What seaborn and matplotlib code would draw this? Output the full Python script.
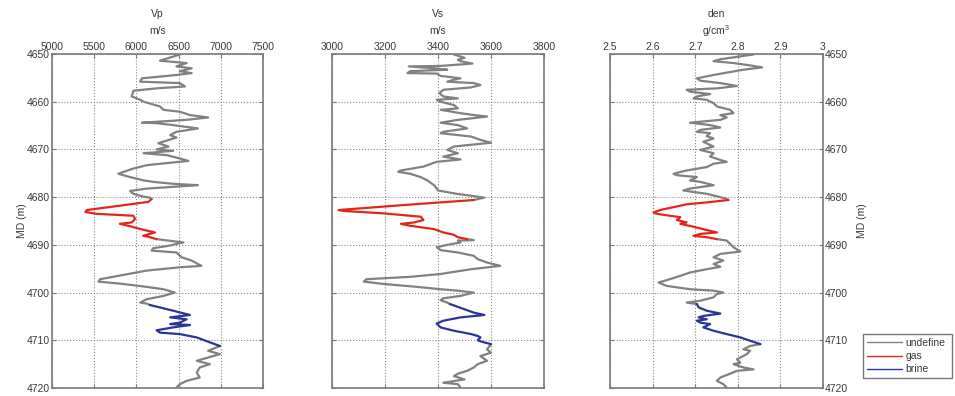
import matplotlib
matplotlib.use("Agg")
import matplotlib.pyplot as plt
from matplotlib.lines import Line2D
import pandas as pd
import seaborn as sns

# ---- well-log samples: measured depth (m) and log value ----
vp_depth = [4650.1, 4651.4, 4651.9, 4652.6, 4653.0, 4653.6, 4654.0, 4654.4, 4655.1, 4655.8,
            4656.1, 4656.8, 4657.2, 4657.7, 4658.9, 4659.6, 4660.0, 4661.0, 4661.7, 4662.1,
            4662.8, 4663.3, 4663.8, 4664.4, 4664.5, 4664.9, 4665.1, 4665.6, 4666.3, 4667.0,
            4667.5, 4668.7, 4669.4, 4670.0, 4670.3, 4670.8, 4671.2, 4671.9, 4672.4, 4672.9,
            4673.3, 4674.0, 4675.1, 4675.8, 4676.5, 4676.8, 4677.2, 4677.5, 4678.2, 4678.7,
            4679.3, 4679.9, 4680.1, 4680.4, 4681.0, 4682.7, 4683.1, 4683.5, 4683.9, 4684.6,
            4685.3, 4685.6, 4686.0, 4686.3, 4687.0, 4687.4, 4688.1, 4688.3, 4688.8, 4689.5,
            4690.2, 4690.7, 4691.2, 4691.6, 4692.6, 4693.3, 4694.4, 4694.7, 4695.4, 4697.2,
            4697.7, 4698.2, 4698.8, 4699.3, 4700.0, 4700.7, 4701.4, 4702.1, 4702.3, 4702.6,
            4703.8, 4704.7, 4705.2, 4705.6, 4706.3, 4706.6, 4706.8, 4707.3, 4707.9, 4708.4,
            4708.7, 4709.4, 4710.3, 4711.2, 4712.2, 4712.9, 4713.5, 4714.3, 4715.0, 4715.7,
            4716.8, 4717.8, 4718.5, 4719.2, 4719.9]
vp_value = [6515, 6280, 6595, 6475, 6655, 6515, 6655, 6475, 6065, 6045,
            6515, 6575, 6240, 5965, 5945, 6045, 6085, 6280, 6320, 6515,
            6635, 6850, 6595, 6065, 6240, 6435, 6515, 6730, 6475, 6400,
            6475, 6260, 6380, 6240, 6435, 6085, 6360, 6515, 6615, 6340,
            6125, 5965, 5785, 5925, 6085, 6200, 6435, 6730, 6125, 5925,
            5965, 6085, 6160, 6180, 6140, 5415, 5395, 5530, 5965, 5985,
            5945, 5805, 5905, 5965, 6120, 6220, 6080, 6140, 6240, 6555,
            6380, 6200, 6180, 6475, 6535, 6655, 6770, 6515, 6120, 5570,
            5550, 5845, 6120, 6320, 6455, 6320, 6120, 6045, 6120, 6160,
            6435, 6635, 6400, 6595, 6515, 6400, 6635, 6435, 6240, 6280,
            6515, 6715, 6850, 6990, 6850, 6990, 6870, 6715, 6870, 6750,
            6715, 6750, 6595, 6515, 6475]

vs_depth = [4650.1, 4650.8, 4651.2, 4651.5, 4652.0, 4652.5, 4652.6, 4653.0, 4653.3, 4653.6,
            4654.0, 4654.1, 4654.6, 4655.1, 4655.4, 4655.8, 4656.1, 4656.5, 4657.0, 4657.5,
            4658.2, 4658.9, 4659.3, 4659.6, 4660.0, 4660.7, 4661.4, 4661.7, 4662.4, 4662.8,
            4663.1, 4663.5, 4663.8, 4664.4, 4664.9, 4665.6, 4666.3, 4666.6, 4667.3, 4668.0,
            4668.6, 4669.1, 4669.4, 4670.1, 4670.8, 4671.5, 4672.1, 4672.6, 4673.6, 4674.4,
            4674.7, 4675.1, 4675.8, 4676.5, 4677.5, 4678.2, 4678.6, 4679.3, 4679.9, 4680.1,
            4680.6, 4681.0, 4681.7, 4682.7, 4682.9, 4683.4, 4684.1, 4684.8, 4685.3, 4685.6,
            4686.0, 4686.7, 4687.4, 4687.9, 4688.4, 4688.8, 4689.0, 4689.1, 4689.5, 4690.0,
            4690.5, 4691.1, 4691.6, 4692.3, 4693.0, 4693.7, 4694.4, 4695.1, 4696.1, 4696.7,
            4697.2, 4697.7, 4698.2, 4698.8, 4699.3, 4699.6, 4700.0, 4700.7, 4701.2, 4701.6,
            4702.1, 4702.4, 4703.5, 4704.2, 4704.7, 4705.2, 4705.9, 4706.5, 4707.3, 4708.0,
            4708.7, 4709.1, 4709.4, 4710.0, 4710.3, 4710.8, 4711.9, 4712.6, 4713.3, 4714.3,
            4715.0, 4715.7, 4716.4, 4717.0, 4717.5, 4718.2, 4718.9, 4719.2, 4719.9]
vs_value = [3460, 3500, 3475, 3485, 3530, 3410, 3290, 3385, 3435, 3295,
            3285, 3395, 3410, 3485, 3460, 3435, 3535, 3560, 3525, 3420,
            3405, 3420, 3475, 3395, 3410, 3460, 3475, 3410, 3485, 3535,
            3585, 3525, 3475, 3410, 3475, 3510, 3420, 3410, 3525, 3560,
            3600, 3510, 3460, 3435, 3475, 3420, 3485, 3395, 3345, 3260,
            3250, 3295, 3335, 3360, 3385, 3395, 3400, 3470, 3550, 3575,
            3535, 3435, 3260, 3025, 3045, 3195, 3335, 3345, 3310, 3260,
            3295, 3385, 3420, 3460, 3475, 3510, 3535, 3475, 3485, 3435,
            3395, 3410, 3475, 3535, 3550, 3585, 3635, 3525, 3410, 3295,
            3130, 3120, 3195, 3320, 3410, 3475, 3535, 3485, 3420, 3410,
            3435, 3445, 3500, 3535, 3575, 3485, 3420, 3395, 3410, 3460,
            3525, 3550, 3560, 3550, 3565, 3600, 3585, 3600, 3560, 3585,
            3550, 3535, 3510, 3475, 3460, 3500, 3420, 3475, 3485]

den_depth = [4650.1, 4650.6, 4651.1, 4651.5, 4651.9, 4652.5, 4652.8, 4653.3, 4653.9, 4654.4,
             4655.1, 4655.6, 4656.1, 4656.7, 4657.2, 4657.5, 4657.9, 4658.4, 4658.9, 4659.3,
             4659.6, 4660.3, 4661.0, 4661.7, 4662.4, 4662.8, 4663.3, 4663.8, 4664.4, 4664.9,
             4665.4, 4665.9, 4666.3, 4666.6, 4667.2, 4667.7, 4668.4, 4669.4, 4670.1, 4670.8,
             4671.5, 4672.2, 4672.6, 4673.0, 4673.7, 4674.4, 4675.1, 4675.4, 4675.8, 4676.5,
             4676.8, 4677.5, 4678.2, 4678.6, 4679.3, 4680.0, 4680.35, 4680.6, 4681.1, 4681.5,
             4682.1, 4682.7, 4683.2, 4683.5, 4683.9, 4684.2, 4684.8, 4685.3, 4685.6, 4686.2,
             4686.9, 4687.4, 4687.7, 4688.1, 4688.4, 4688.8, 4689.1, 4689.8, 4690.5, 4691.4,
             4691.9, 4692.6, 4693.3, 4694.0, 4694.6, 4695.1, 4695.8, 4696.5, 4697.4, 4697.9,
             4698.6, 4699.3, 4699.6, 4700.0, 4700.3, 4701.0, 4701.7, 4702.1, 4702.4, 4703.1,
             4703.8, 4704.4, 4704.9, 4705.2, 4705.6, 4705.9, 4706.3, 4706.6, 4707.3, 4708.0,
             4708.7, 4709.4, 4710.1, 4710.8, 4711.2, 4711.9, 4712.2, 4712.9, 4714.0, 4714.7,
             4715.0, 4715.7, 4716.1, 4716.4, 4717.0, 4717.8, 4718.5, 4719.2, 4719.9]
den_value = [2.837, 2.798, 2.759, 2.743, 2.790, 2.837, 2.857, 2.813, 2.774, 2.743,
             2.704, 2.712, 2.759, 2.798, 2.751, 2.680, 2.688, 2.735, 2.704, 2.696,
             2.727, 2.743, 2.751, 2.782, 2.790, 2.759, 2.774, 2.759, 2.688, 2.735,
             2.759, 2.712, 2.704, 2.735, 2.727, 2.743, 2.719, 2.743, 2.712, 2.743,
             2.735, 2.759, 2.774, 2.743, 2.727, 2.680, 2.649, 2.657, 2.704, 2.688,
             2.712, 2.743, 2.688, 2.672, 2.727, 2.759, 2.774, 2.778, 2.727, 2.680,
             2.649, 2.618, 2.602, 2.610, 2.641, 2.665, 2.657, 2.680, 2.665, 2.696,
             2.727, 2.751, 2.712, 2.696, 2.727, 2.751, 2.774, 2.782, 2.790, 2.806,
             2.759, 2.743, 2.766, 2.743, 2.759, 2.727, 2.688, 2.665, 2.633, 2.614,
             2.633, 2.688, 2.743, 2.766, 2.751, 2.743, 2.712, 2.680, 2.704, 2.708,
             2.727, 2.759, 2.719, 2.708, 2.727, 2.704, 2.712, 2.735, 2.719, 2.743,
             2.774, 2.806, 2.829, 2.853, 2.829, 2.813, 2.829, 2.821, 2.798, 2.806,
             2.790, 2.813, 2.837, 2.798, 2.782, 2.759, 2.751, 2.766, 2.774]

# fluid intervals (m)
gas_zone = (4680.4, 4688.4)
brine_zone = (4702.4, 4710.3)

facies_names = ["undefine", "gas", "brine"]
facies_colors = {"undefine": "#818181", "gas": "#e4251d", "brine": "#2a3594"}

# panel definitions: title, unit, x range, x ticks
panel_titles = ["Vp", "Vs", "den"]
panel_units = ["m/s", "m/s", "g/cm$^3$"]
panel_xlim = [(5000, 7500), (3000, 3800), (2.5, 3.0)]
panel_xticks = [[5000, 5500, 6000, 6500, 7000, 7500],
                [3000, 3200, 3400, 3600, 3800],
                [2.5, 2.6, 2.7, 2.8, 2.9, 3.0]]
panel_xticklabels = [["5000", "5500", "6000", "6500", "7000", "7500"],
                     ["3000", "3200", "3400", "3600", "3800"],
                     ["2.5", "2.6", "2.7", "2.8", "2.9", "3"]]
depth_ticks = [4650, 4660, 4670, 4680, 4690, 4700, 4710, 4720]


def facies_of(d):
    if gas_zone[0] <= d <= gas_zone[1]:
        return "gas"
    if brine_zone[0] <= d <= brine_zone[1]:
        return "brine"
    return "undefine"


def log_frame(depth, value):
    """Split a log into runs of constant facies; each run ends on the
    first sample of the next run so the trace stays continuous."""
    labels = [facies_of(d) for d in depth]
    rows, seg = [], 0
    for i, (d, v, f) in enumerate(zip(depth, value, labels)):
        if i > 0 and f != labels[i - 1]:
            rows.append((d, v, labels[i - 1], seg))
            seg += 1
        rows.append((d, v, f, seg))
    return pd.DataFrame(rows, columns=["depth", "value", "facies", "segment"])


sns.set_style("white")
plt.rcParams["font.family"] = ["Liberation Sans", "DejaVu Sans"]
plt.rcParams["mathtext.fontset"] = "custom"
plt.rcParams["mathtext.rm"] = "Liberation Sans"

text_color = "#3a3a3a"
frame_color = "#7a7a7a"

W, H = 955, 396
fig = plt.figure(figsize=(W / 100, H / 100), dpi=100)
fig.patch.set_facecolor("white")

# axes boxes in pixels: left, right
axes_px = [(52, 263), (332, 544), (610, 823)]
ax_top, ax_bottom = 54, 388

logs = [(vp_depth, vp_value), (vs_depth, vs_value), (den_depth, den_value)]

for i, ((dep, val), (x0, x1)) in enumerate(zip(logs, axes_px)):
    ax = fig.add_axes([x0 / W, (H - ax_bottom) / H, (x1 - x0) / W, (ax_bottom - ax_top) / H])
    df = log_frame(dep, val)
    sns.lineplot(data=df, x="value", y="depth", hue="facies", hue_order=facies_names,
                 palette=facies_colors, units="segment", estimator=None, sort=False,
                 orient="y", linewidth=1.6, legend=False, ax=ax)

    ax.set_xlim(*panel_xlim[i])
    ax.set_ylim(4720, 4650)
    ax.set_xticks(panel_xticks[i])
    ax.set_xticklabels(panel_xticklabels[i])
    ax.set_yticks(depth_ticks)
    ax.xaxis.tick_top()
    ax.set_xlabel("")

    # two-line header: quantity name and unit
    xc = (x0 + x1) / 2 / W
    fig.text(xc, 1 - 14 / H, panel_titles[i], ha="center", va="center",
             fontsize=7.5, color=text_color)
    fig.text(xc, 1 - 31 / H, panel_units[i], ha="center", va="center",
             fontsize=7.5, color=text_color)

    ax.grid(True, linestyle=":", linewidth=0.8, color="#8a8a8a")
    ax.tick_params(axis="both", direction="in", length=3, width=0.8,
                   colors=frame_color, labelcolor=text_color, labelsize=7.5,
                   top=True, bottom=True, left=True, right=True, pad=1.5)
    for sp in ax.spines.values():
        sp.set_color(frame_color)
        sp.set_linewidth(1.2)
        sp.set_visible(True)

    if i == 0:
        ax.set_ylabel("MD (m)", fontsize=7.5, color=text_color, labelpad=0)
        ax.tick_params(axis="y", labelleft=True, labelright=False)
    elif i == 1:
        ax.set_ylabel("")
        ax.tick_params(axis="y", labelleft=False, labelright=False)
    else:
        ax.yaxis.set_label_position("right")
        ax.set_ylabel("MD (m)", fontsize=7.5, color=text_color, labelpad=6)
        ax.tick_params(axis="y", labelleft=False, labelright=True)

handles = [Line2D([0], [0], color=facies_colors[f], lw=1.0) for f in facies_names]
leg = fig.legend(handles, facies_names, loc="lower left",
                 bbox_to_anchor=(863 / W, 18 / H, 89 / W, 50 / H),
                 mode="expand", frameon=True, fancybox=False, fontsize=7.5,
                 handlelength=3.4, handletextpad=0.3, borderpad=0.35,
                 labelspacing=0.3, borderaxespad=0)
leg.get_frame().set_edgecolor("#555555")
leg.get_frame().set_linewidth(1.0)
for t in leg.get_texts():
    t.set_color(text_color)

fig.savefig("out.png", dpi=100, facecolor="white")
